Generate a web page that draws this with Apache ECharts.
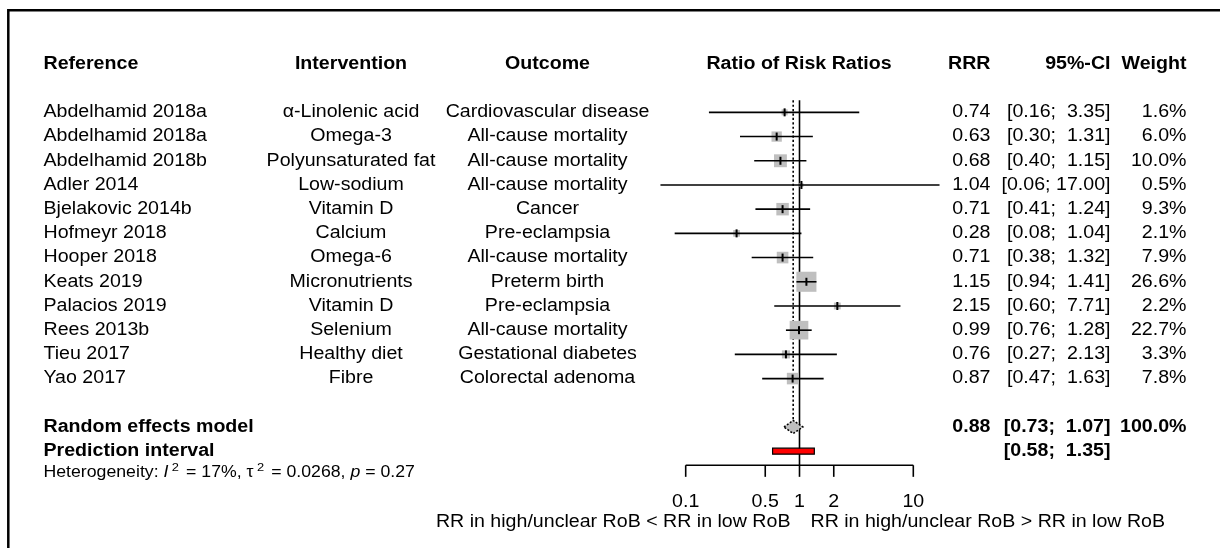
<!DOCTYPE html>
<html>
<head>
<meta charset="utf-8">
<title>Ratio of Risk Ratios</title>
<script src="https://cdn.jsdelivr.net/npm/echarts@6/dist/echarts.min.js"></script>
<style>
  html, body { margin: 0; padding: 0; background: #fff; }
  #chart { width: 1221px; height: 548px; }
</style>
</head>
<body>
<div id="chart"></div>
<script>
// ---- study data ----
const studies = ['Abdelhamid 2018a', 'Abdelhamid 2018a', 'Abdelhamid 2018b', 'Adler 2014', 'Bjelakovic 2014b',
  'Hofmeyr 2018', 'Hooper 2018', 'Keats 2019', 'Palacios 2019', 'Rees 2013b', 'Tieu 2017', 'Yao 2017'];
const interventions = ['α-Linolenic acid', 'Omega-3', 'Polyunsaturated fat', 'Low-sodium', 'Vitamin D',
  'Calcium', 'Omega-6', 'Micronutrients', 'Vitamin D', 'Selenium', 'Healthy diet', 'Fibre'];
const outcomes = ['Cardiovascular disease', 'All-cause mortality', 'All-cause mortality', 'All-cause mortality',
  'Cancer', 'Pre-eclampsia', 'All-cause mortality', 'Preterm birth', 'Pre-eclampsia', 'All-cause mortality',
  'Gestational diabetes', 'Colorectal adenoma'];
const rrr = [0.74, 0.63, 0.68, 1.04, 0.71, 0.28, 0.71, 1.15, 2.15, 0.99, 0.76, 0.87];
const ciLower = [0.16, 0.30, 0.40, 0.06, 0.41, 0.08, 0.38, 0.94, 0.60, 0.76, 0.27, 0.47];
const ciUpper = [3.35, 1.31, 1.15, 17.00, 1.24, 1.04, 1.32, 1.41, 7.71, 1.28, 2.13, 1.63];
const weights = [1.6, 6.0, 10.0, 0.5, 9.3, 2.1, 7.9, 26.6, 2.2, 22.7, 3.3, 7.8];

// pooled random effects estimate and prediction interval
const pooled = [0.88, 0.73, 1.07];
const pooledWeight = 100.0;
const predInterval = [0.58, 1.35];

// axis ticks and labels
const tickValues = [0.1, 0.5, 1, 2, 10];
const tickLabels = ['0.1', '0.5', '1', '2', '10'];
const headers = ['Reference', 'Intervention', 'Outcome', 'Ratio of Risk Ratios', 'RRR', '95%-CI', 'Weight'];
const leftLabel = 'RR in high/unclear RoB < RR in low RoB';
const rightLabel = 'RR in high/unclear RoB > RR in low RoB';

// ---- layout ----
const FONT = "'Liberation Sans', Arial, Helvetica, sans-serif";
const FS = 17.5;      // table font size
const SX = 1.12;      // horizontal text stretch
const COL = { ref: 43.5, int: 351, out: 547.5, plot: 799, rrr: 990.5, ci: 1110.5, w: 1186.5 };
const ROW_HEADER = -1, ROW_POOLED = 14, ROW_PRED = 15;
const ROW_REF_TOP = 0.5, ROW_AXIS = 15.58, ROW_TICK = 16.06, ROW_TICKLAB = 17.1, ROW_XLAB = 17.95, ROW_HET = 15.9;

const fmt2 = v => v.toFixed(2);
const padL = (s, n) => ' '.repeat(Math.max(0, n - s.length)) + s;
const ciWidth = Math.max(...ciUpper.map(v => fmt2(v).length));
const ciText = (lo, hi) => '[' + fmt2(lo) + '; ' + padL(fmt2(hi), ciWidth) + ']';

function txt(x, y, text, align, bold, size) {
  return {
    type: 'text', x: x, y: y, scaleX: SX, silent: true,
    style: {
      text: text, textAlign: align, align: align,
      textVerticalAlign: 'middle', verticalAlign: 'middle',
      fontFamily: FONT, fontSize: size || FS, fontWeight: bold ? 'bold' : 'normal', fill: '#000'
    }
  };
}
const rowY = (api, row) => api.coord([1, row])[1];

const option = {
  animation: false,
  backgroundColor: '#fff',
  grid: { left: 571.9, top: 39.75, width: 455.2, height: 509.25, show: false },
  xAxis: { type: 'log', logBase: 10, min: 0.01, max: 100, show: false },
  yAxis: { type: 'value', min: -2, max: 19, inverse: true, show: false },
  graphic: [{
    type: 'polyline', silent: true,
    shape: { points: [[8.3, 548], [8.3, 10.3], [1220, 10.3]] },
    style: { stroke: '#000', lineWidth: 2.5, fill: null }
  }],
  series: [
    // column headers
    {
      type: 'custom', data: [[1, ROW_HEADER]], encode: { x: 0, y: 1 },
      renderItem: (params, api) => {
        const y = rowY(api, api.value(1));
        return { type: 'group', children: [
          txt(COL.ref, y, headers[0], 'left', true),
          txt(COL.int, y, headers[1], 'center', true),
          txt(COL.out, y, headers[2], 'center', true),
          txt(COL.plot, y, headers[3], 'center', true),
          txt(COL.rrr, y, headers[4], 'right', true),
          txt(COL.ci, y, headers[5], 'right', true),
          txt(COL.w, y, headers[6], 'right', true)
        ]};
      }
    },
    // reference line at 1 (solid) and pooled estimate (dotted)
    {
      type: 'custom', data: [[1, 0], [pooled[0], 1]], encode: { x: 0 },
      renderItem: (params, api) => {
        const x = api.coord([api.value(0), 0])[0];
        const y0 = rowY(api, ROW_REF_TOP);
        const dotted = api.value(1) === 1;
        const y1 = dotted ? rowY(api, ROW_POOLED) - 7 : rowY(api, ROW_AXIS);
        return { type: 'line', shape: { x1: x, y1: y0, x2: x, y2: y1 },
          style: { stroke: '#000', lineWidth: 1.6, lineDash: dotted ? [2.2, 2.2] : null } };
      }
    },
    // study boxes and confidence intervals
    {
      type: 'custom',
      data: rrr.map((v, i) => [v, ciLower[i], ciUpper[i], weights[i], i + 1]),
      encode: { x: [0, 1, 2], y: 4 },
      renderItem: (params, api) => {
        const row = api.value(4);
        const pE = api.coord([api.value(0), row]);
        const pL = api.coord([api.value(1), row]);
        const pH = api.coord([api.value(2), row]);
        const s = 3.6 * Math.sqrt(api.value(3)) + 1.5;
        return { type: 'group', children: [
          { type: 'rect', shape: { x: pE[0] - s / 2, y: pE[1] - s / 2, width: s, height: s },
            style: { fill: '#bfbfbf' } },
          { type: 'line', shape: { x1: pL[0], y1: pL[1], x2: pH[0], y2: pH[1] },
            style: { stroke: '#000', lineWidth: 1.6 } },
          { type: 'line', shape: { x1: pE[0], y1: pE[1] - 4, x2: pE[0], y2: pE[1] + 4 },
            style: { stroke: '#000', lineWidth: 2 } }
        ]};
      }
    },
    // study text columns
    {
      type: 'custom',
      data: studies.map((s, i) => [1, i + 1]),
      encode: { x: 0, y: 1 },
      renderItem: (params, api) => {
        const i = params.dataIndex;
        const y = rowY(api, api.value(1));
        return { type: 'group', children: [
          txt(COL.ref, y, studies[i], 'left'),
          txt(COL.int, y, interventions[i], 'center'),
          txt(COL.out, y, outcomes[i], 'center'),
          txt(COL.rrr, y, fmt2(rrr[i]), 'right'),
          txt(COL.ci, y, ciText(ciLower[i], ciUpper[i]), 'right'),
          txt(COL.w, y, weights[i].toFixed(1) + '%', 'right')
        ]};
      }
    },
    // random effects diamond
    {
      type: 'custom', data: [[pooled[0], pooled[1], pooled[2], ROW_POOLED]], encode: { x: [0, 1, 2], y: 3 },
      renderItem: (params, api) => {
        const row = api.value(3);
        const pE = api.coord([api.value(0), row]);
        const pL = api.coord([api.value(1), row]);
        const pH = api.coord([api.value(2), row]);
        const h = 6.5;
        return { type: 'group', children: [
          { type: 'polygon', shape: { points: [[pL[0], pL[1]], [pE[0], pE[1] - h], [pH[0], pH[1]], [pE[0], pE[1] + h]] },
            style: { fill: '#bfbfbf', stroke: '#000', lineWidth: 1.5, lineDash: [2, 1.6] } },
          txt(COL.ref, pE[1], 'Random effects model', 'left', true),
          txt(COL.rrr, pE[1], fmt2(api.value(0)), 'right', true),
          txt(COL.ci, pE[1], ciText(api.value(1), api.value(2)), 'right', true),
          txt(COL.w, pE[1], pooledWeight.toFixed(1) + '%', 'right', true)
        ]};
      }
    },
    // prediction interval bar
    {
      type: 'custom', data: [[predInterval[0], predInterval[1], ROW_PRED]], encode: { x: [0, 1], y: 2 },
      renderItem: (params, api) => {
        const row = api.value(2);
        const pL = api.coord([api.value(0), row]);
        const pH = api.coord([api.value(1), row]);
        return { type: 'group', children: [
          { type: 'rect', shape: { x: pL[0], y: pL[1] - 3, width: pH[0] - pL[0], height: 6 },
            style: { fill: '#ff0000', stroke: '#000', lineWidth: 1.2 } },
          txt(COL.ref, pL[1], 'Prediction interval', 'left', true),
          txt(COL.ci, pL[1], ciText(api.value(0), api.value(1)), 'right', true)
        ]};
      }
    },
    // heterogeneity statistics
    {
      type: 'custom', data: [[1, ROW_HET]], encode: { x: 0, y: 1 },
      renderItem: (params, api) => {
        const y = rowY(api, api.value(1));
        return {
          type: 'text', x: COL.ref, y: y, scaleX: SX, silent: true,
          style: {
            text: '{n|Heterogeneity: }{i|I}{s|2}{n| = 17%, τ}{s|2}{n| = 0.0268, }{i|p}{n| = 0.27}',
            textAlign: 'left', align: 'left', textVerticalAlign: 'middle', verticalAlign: 'middle',
            fontFamily: FONT, fontSize: 15.8, fill: '#000',
            rich: {
              n: { fontFamily: FONT, fontSize: 15.8, fill: '#000' },
              i: { fontFamily: FONT, fontSize: 15.8, fontStyle: 'italic', fill: '#000' },
              s: { fontFamily: FONT, fontSize: 11.5, fill: '#000', verticalAlign: 'top', padding: [0, 2, 10, 3] }
            }
          }
        };
      }
    },
    // x axis line
    {
      type: 'custom', data: [[tickValues[0], tickValues[tickValues.length - 1]]], encode: { x: [0, 1] },
      renderItem: (params, api) => {
        const y = rowY(api, ROW_AXIS);
        const x1 = api.coord([api.value(0), 0])[0];
        const x2 = api.coord([api.value(1), 0])[0];
        return { type: 'line', shape: { x1: x1, y1: y, x2: x2, y2: y }, style: { stroke: '#000', lineWidth: 1.6 } };
      }
    },
    // ticks and tick labels
    {
      type: 'custom', data: tickValues.map(v => [v]), encode: { x: 0 },
      renderItem: (params, api) => {
        const x = api.coord([api.value(0), 0])[0];
        const y0 = rowY(api, ROW_AXIS), y1 = rowY(api, ROW_TICK);
        return { type: 'group', children: [
          { type: 'line', shape: { x1: x, y1: y0, x2: x, y2: y1 }, style: { stroke: '#000', lineWidth: 1.6 } },
          txt(x, rowY(api, ROW_TICKLAB), tickLabels[params.dataIndex], 'center')
        ]};
      }
    },
    // direction labels either side of the null line
    {
      type: 'custom', data: [[1]], encode: { x: 0 },
      renderItem: (params, api) => {
        const x = api.coord([api.value(0), 0])[0];
        const y = rowY(api, ROW_XLAB);
        return { type: 'group', children: [
          txt(x - 9, y, leftLabel, 'right'),
          txt(x + 11, y, rightLabel, 'left')
        ]};
      }
    }
  ]
};

const chart = echarts.init(document.getElementById('chart'), null, { renderer: 'canvas' });
chart.setOption(option);
</script>
</body>
</html>
